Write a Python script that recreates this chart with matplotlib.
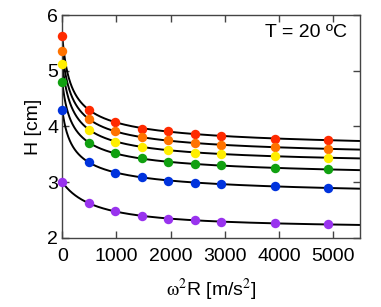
import numpy as np
import matplotlib
matplotlib.use("Agg")
import matplotlib.pyplot as plt

plt.rcParams['font.family'] = ['Liberation Sans', 'DejaVu Sans']
plt.rcParams['mathtext.fontset'] = 'stix'

# omega^2 R values (m/s^2)
accel = [0, 490, 980, 1470, 1960, 2450, 2940, 3920, 4900]

# bed height H (cm), one series per sample
h_red = [5.62, 4.30, 4.08, 3.96, 3.91, 3.87, 3.83, 3.78, 3.76]
h_orange = [5.36, 4.13, 3.91, 3.81, 3.75, 3.70, 3.67, 3.63, 3.60]
h_yellow = [5.12, 3.94, 3.73, 3.64, 3.58, 3.53, 3.50, 3.47, 3.44]
h_green = [4.80, 3.71, 3.52, 3.43, 3.36, 3.32, 3.30, 3.26, 3.23]
h_blue = [4.30, 3.36, 3.17, 3.09, 3.03, 2.99, 2.96, 2.93, 2.90]
h_purple = [3.00, 2.62, 2.48, 2.40, 2.34, 2.32, 2.29, 2.26, 2.245]

series = [h_red, h_orange, h_yellow, h_green, h_blue, h_purple]
colors = ['#ff2a00', '#ff7300', '#ffee00', '#10a010', '#0033dd', '#9933ee']


def fit_curve(x, y):
    # H = a + b*(1 + x/x0)^-n, grid over x0, n; linear lsq for a, b
    x = np.asarray(x, float)
    y = np.asarray(y, float)
    w = np.ones_like(y)
    w[0] = 10.0
    best = None
    for x0 in np.logspace(0, 3.5, 80):
        for n in np.linspace(0.05, 3, 60):
            f = (1 + x / x0) ** (-n)
            A = np.vstack([np.ones_like(x), f]).T * w[:, None]
            coef, *_ = np.linalg.lstsq(A, y * w, rcond=None)
            r = np.sum((A @ coef - y * w) ** 2)
            if best is None or r < best[0]:
                best = (r, x0, n, coef)
    _, x0, n, coef = best
    return lambda xx: coef[0] + coef[1] * (1 + xx / x0) ** (-n)


fig = plt.figure(figsize=(3.81, 3.07), dpi=100)
ax = fig.add_axes([0.1635, 0.225, 0.7815, 0.726])

xx = np.linspace(0, 5500, 1000)
for h, c in zip(series, colors):
    f = fit_curve(accel, h)
    ax.plot(xx, f(xx), color='black', lw=1.4, zorder=2)
    ax.plot(accel, h, 'o', color=c, ms=6.8, mec='none', zorder=3, clip_on=False)

ax.set_xlim(0, 5500)
ax.set_ylim(2, 6)
ax.set_xticks([0, 1000, 2000, 3000, 4000, 5000])
ax.set_yticks([2, 3, 4, 5, 6])
ax.tick_params(direction='in', top=True, right=True, length=5, width=1,
               labelsize=14, color='#444444')
ax.tick_params(axis='x', pad=7)
ax.tick_params(axis='y', pad=3)
for s in ax.spines.values():
    s.set_color('#444444')
    s.set_linewidth(1)

ax.set_xlabel(r'$\mathrm{\omega}^2$R [m/s$^2$]', fontsize=14, labelpad=9)
ax.set_ylabel('H [cm]', fontsize=14, labelpad=4)
ax.text(0.955, 0.92, 'T = 20 ºC', transform=ax.transAxes, ha='right',
        va='center', fontsize=14)

fig.savefig('out.png', dpi=100)
